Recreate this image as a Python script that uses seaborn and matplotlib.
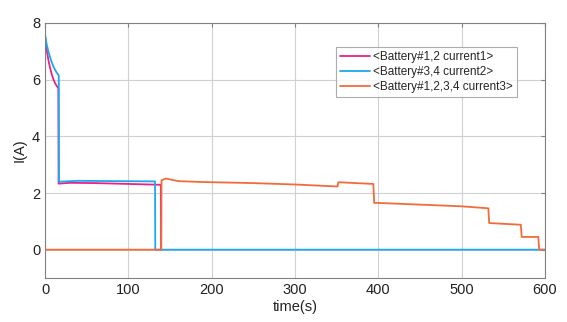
import numpy as np
import pandas as pd
import matplotlib
matplotlib.use("Agg")
import matplotlib.pyplot as plt
import seaborn as sns

# Battery currents over time (s, A)
t1 = [0, 2, 4, 6, 8, 10, 12, 14, 16, 16.3, 30, 60, 100, 139, 139.3]
i1 = [7.55, 7.05, 6.7, 6.42, 6.2, 6.02, 5.88, 5.78, 5.7, 2.33, 2.36, 2.35, 2.32, 2.29, 0]

t2 = [0, 2, 4, 6, 8, 10, 12, 14, 16.5, 16.8, 40, 80, 132, 132.3, 600]
i2 = [7.6, 7.25, 7.0, 6.8, 6.62, 6.47, 6.35, 6.25, 6.15, 2.40, 2.43, 2.42, 2.41, 0, 0]

t3 = [0, 0, 139.5, 139.8, 145, 160, 186, 250, 300, 351, 352, 394, 395,
      400, 500, 532, 533, 571, 572, 592, 593, 600]
i3 = [8, 0, 0, 2.45, 2.51, 2.42, 2.39, 2.35, 2.30, 2.23, 2.38, 2.32, 1.65,
      1.65, 1.53, 1.46, 0.94, 0.88, 0.45, 0.45, 0, 0]

labels = ["<Battery#1,2 current1>", "<Battery#3,4 current2>", "<Battery#1,2,3,4 current3>"]
colors = ["#e8218c", "#1ea7ef", "#f46b3a"]

xticks = [0, 100, 200, 300, 400, 500, 600]
yticks = [0, 2, 4, 6, 8]

sns.set_style("white")
plt.rcParams['font.family'] = ['Liberation Sans', 'DejaVu Sans']

fig = plt.figure(figsize=(5.67, 3.22), dpi=100)
ax = fig.add_axes([0.0794, 0.1366, 0.8818, 0.792])

frames = []
for t, i, lab in zip([t1, t2, t3], [i1, i2, i3], labels):
    frames.append(pd.DataFrame({"time": t, "I": i, "series": lab}))
df = pd.concat(frames, ignore_index=True)

sns.lineplot(data=df, x="time", y="I", hue="series", hue_order=labels,
             palette=colors, sort=False, estimator=None, linewidth=1.3, ax=ax)

ax.set_xlim(0, 600)
ax.set_ylim(-1, 8)
ax.set_xticks(xticks)
ax.set_yticks(yticks)
ax.grid(True, color="#d0d0d0", linewidth=0.8)
ax.set_axisbelow(True)
for s in ax.spines.values():
    s.set_color("#808080")
    s.set_linewidth(0.8)
ax.tick_params(direction="in", length=3, color="#808080", labelsize=10.5,
               labelcolor="#222222", top=True, right=True, labeltop=False, labelright=False)
ax.set_xlabel("time(s)", fontsize=10.5, color="#222222", labelpad=2)
ax.set_ylabel("I(A)", fontsize=10.5, color="#222222", labelpad=4)

leg = ax.legend(loc="upper left", bbox_to_anchor=(0.582, 0.905), borderaxespad=0,
                fontsize=8.5, frameon=True, fancybox=False, handlelength=2.5,
                handletextpad=0.3, labelspacing=0.25, borderpad=0.35)
leg.get_frame().set_edgecolor("#999999")
leg.get_frame().set_linewidth(0.8)

fig.savefig("out.png", dpi=100)
